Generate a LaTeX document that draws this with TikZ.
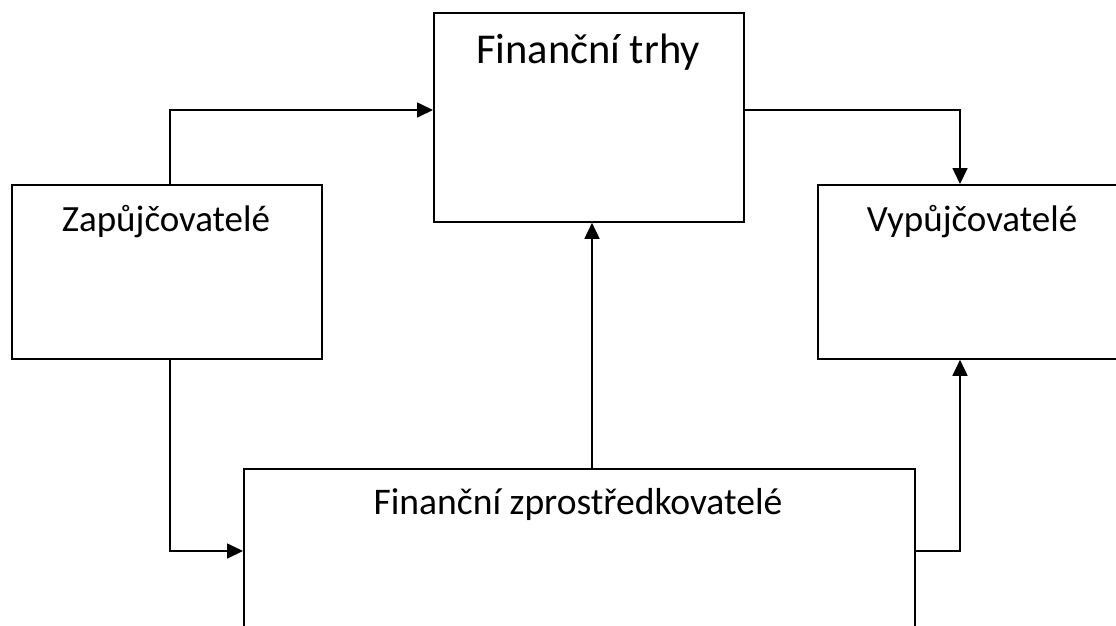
\documentclass[tikz,border=0pt]{standalone}
\usepackage{fontspec}
\setmainfont{Carlito}
\usetikzlibrary{arrows.meta}
\begin{document}
\begin{tikzpicture}[x=1pt,y=-1pt,
  box/.style={draw=black,line width=1.8pt,rectangle,inner sep=0pt,anchor=north west},
  conn/.style={draw=black,line width=1.7pt,-{Triangle[length=16pt,width=15pt]}},
  lbl/.style={anchor=base,inner sep=0pt}]
\useasboundingbox (0,0) rectangle (1116,625);
\clip (0,0) rectangle (1116,625);
\fill[white] (0,0) rectangle (1116,625);
% boxes
\node[box,minimum width=310pt,minimum height=209pt] (ft) at (433,12) {};
\node[box,minimum width=310pt,minimum height=174pt] (zap) at (11,184) {};
\node[box,minimum width=400pt,minimum height=174pt] (vyp) at (817,184) {};
\node[box,minimum width=671pt,minimum height=250pt] (fz) at (243,468) {};
% labels
\node[lbl,font=\fontsize{42.5}{50}\selectfont] (ftl) at (588,63) {Finanční trhy};
\node[lbl,font=\fontsize{37}{44}\selectfont] (zapl) at (166,231) {Zapůjčovatelé};
\node[lbl,font=\fontsize{37}{44}\selectfont] (vypl) at (972,231) {Vypůjčovatelé};
\node[lbl,font=\fontsize{37.6}{44}\selectfont] (fzl) at (578,514) {Finanční zprostředkovatelé};
% connectors
\coordinate (z1) at (170,110);
\coordinate (z2) at (170,551);
\coordinate (v1) at (960,110);
\coordinate (v2) at (960,551);
\draw[conn] (zap.north west -| z1) -- (z1) -- (ft.west |- z1);
\draw[conn] (zap.south west -| z2) -- (z2) -- (fz.west |- z2);
\draw[conn] (ft.east |- v1) -- (v1) -- (vyp.north west -| v1);
\draw[conn] (fz.east |- v2) -- (v2) -- (vyp.south west -| v2);
\draw[conn] (fz.north west -| 592,0) -- (ft.south west -| 592,0);
\end{tikzpicture}
\end{document}
